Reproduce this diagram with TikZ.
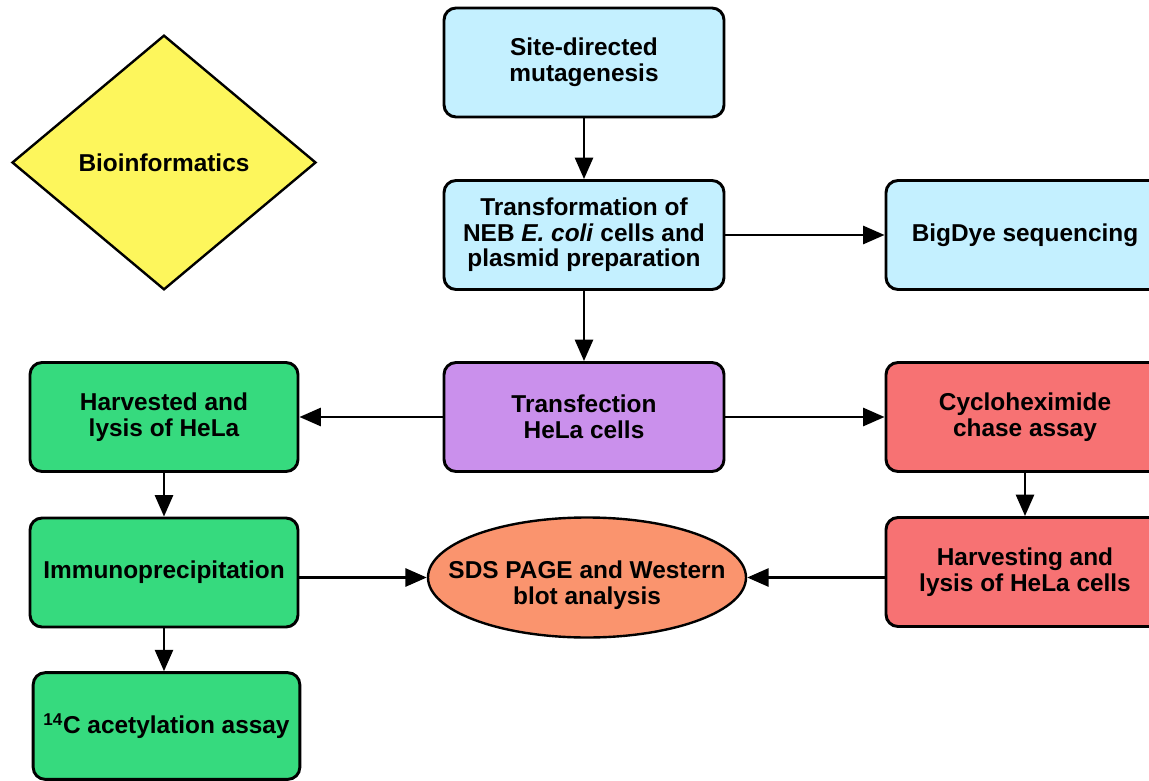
\documentclass[tikz,border=0pt]{standalone}
\usepackage{fontspec}
\setmainfont{Liberation Sans}
\usetikzlibrary{shapes.geometric,arrows.meta}
\definecolor{cblue}{HTML}{C4F0FF}
\definecolor{cyellow}{HTML}{FDF65C}
\definecolor{cpurple}{HTML}{CA90EC}
\definecolor{cgreen}{HTML}{36DA7E}
\definecolor{cred}{HTML}{F77273}
\definecolor{corange}{HTML}{FA946E}
\tikzset{
  every node/.style={font=\fontsize{18.3}{19.2}\selectfont\bfseries, align=center, inner sep=0pt},
  box/.style={draw=black, line width=2.2pt, rounded corners=9pt, minimum height=81.75pt},
  conn/.style={line width=1.9pt, -{Triangle[length=16pt,width=13.5pt]}},
}
\begin{document}
\begin{tikzpicture}[x=0.75pt,y=-0.75pt]
\useasboundingbox (0,0) rectangle (1149,781);
% nodes
\node[box, fill=cblue, minimum width=210pt] (site) at (584,62.5) {Site-directed\\mutagenesis};
\node[box, fill=cblue, minimum width=210pt] (trans) at (584,235) {Transformation of\\NEB \textit{E. coli} cells and\\plasmid preparation};
\node[box, fill=cblue, minimum width=208.5pt] (bigdye) at (1025,235) {BigDye sequencing};
\node[draw=black, line width=1.8pt, fill=cyellow, diamond, minimum width=228pt, minimum height=191pt] (bio) at (164,162.5) {Bioinformatics};
\node[box, fill=cpurple, minimum width=210pt] (transf) at (584,417) {Transfection\\HeLa cells};
\node[box, fill=cgreen, minimum width=201pt] (harv) at (164,417) {Harvested and\\lysis of HeLa};
\node[box, fill=cred, minimum width=208.5pt] (cyclo) at (1025,417) {Cycloheximide\\chase assay};
\node[box, fill=cgreen, minimum width=201pt] (immuno) at (164,572.5) {Immunoprecipitation};
\node[draw=black, line width=1.8pt, fill=corange, ellipse, minimum width=238.5pt, minimum height=90pt] (sds) at (587,577.5) {};
\node (sdstext) at (587,585) {SDS PAGE and Western\\blot analysis};
\node[box, fill=cred, minimum width=208.5pt] (harvhela) at (1025,572) {Harvesting and\\lysis of HeLa cells};
\node[box, fill=cgreen, minimum width=200pt, minimum height=80pt] (acet) at (166.5,726) {\textsuperscript{14}C acetylation assay};
% connectors
\draw[conn] (site) -- (trans);
\draw[conn] (trans) -- (bigdye);
\draw[conn] (trans) -- (transf);
\draw[conn] (transf) -- (harv);
\draw[conn] (transf) -- (cyclo);
\draw[conn] (harv) -- (immuno);
\draw[conn] (cyclo) -- (harvhela);
\draw[conn] (immuno.east |- sds.west) -- (sds.west);
\draw[conn] (harvhela.west |- sds.east) -- (sds.east);
\draw[conn] (immuno.south) -- (immuno.south |- acet.north);
\end{tikzpicture}
\end{document}
